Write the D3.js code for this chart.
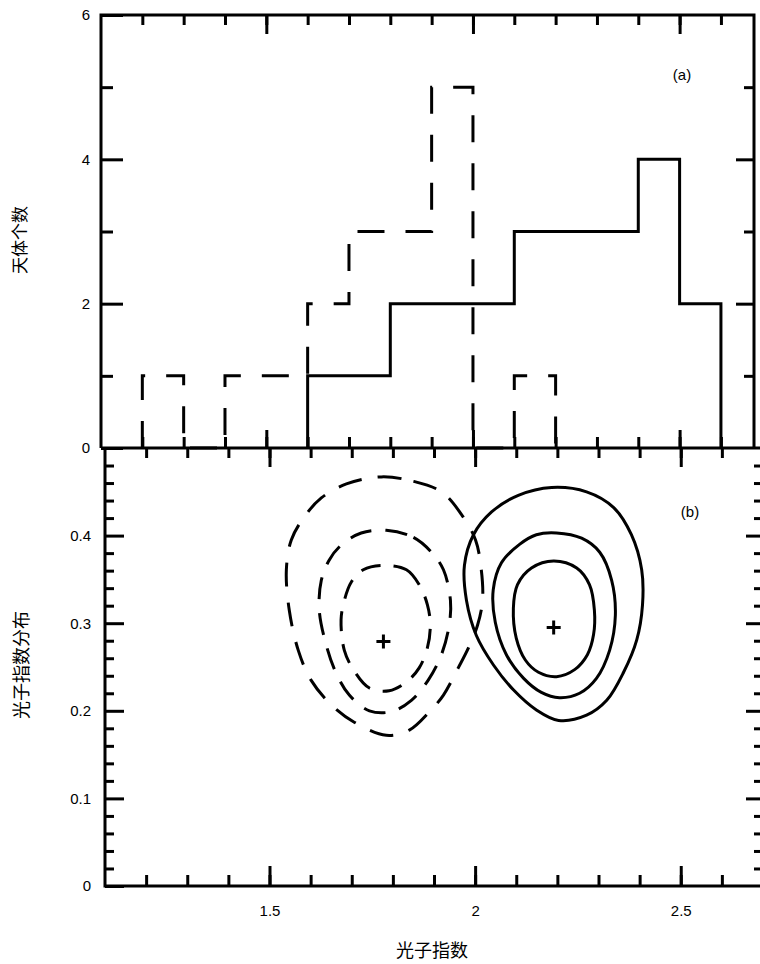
<!DOCTYPE html>
<html>
<head>
<meta charset="utf-8">
<script src="https://cdn.jsdelivr.net/npm/d3@7"></script>
<style>
  html, body { margin: 0; padding: 0; background: #fff; }
  svg { display: block; }
  .tick text { font-family: "Liberation Sans", Arial, sans-serif; font-size: 15px; fill: #000; }
  .tick line { stroke: #000; stroke-width: 3; }
</style>
</head>
<body>
<div id="chart"></div>
<script>
// histogram (a): bin edges and counts
const binEdges = [1.2, 1.3, 1.4, 1.5, 1.6, 1.7, 1.8, 1.9, 2.0, 2.1, 2.2, 2.3, 2.4, 2.5, 2.6];
const dashedCounts = [1, 0, 1, 1, 2, 3, 3, 5, 0, 1, 0, 0, 0, 0];
const solidCounts  = [0, 0, 0, 0, 1, 1, 2, 2, 2, 3, 3, 3, 4, 2];

// ticks
const xMinorTicks = [1.2, 1.3, 1.4, 1.5, 1.6, 1.7, 1.8, 1.9, 2.0, 2.1, 2.2, 2.3, 2.4, 2.5, 2.6];
const xMajorTicks = [1.5, 2.0, 2.5];
const xTickLabels = ["1.5", "2", "2.5"];
const countMajor = [0, 2, 4, 6];
const countMinor = [1, 3, 5];
const sigMajor = [0, 0.1, 0.2, 0.3, 0.4];
const sigMinor = [0.02, 0.04, 0.06, 0.08, 0.12, 0.14, 0.16, 0.18, 0.22, 0.24, 0.26, 0.28,
                  0.32, 0.34, 0.36, 0.38, 0.42, 0.44, 0.46, 0.48];

// contours (b): [光子指数, 分布] points
const dashedOuter = [[1.772,0.467],[1.850,0.462],[1.918,0.450],[1.967,0.424],[2.001,0.395],[2.015,0.361],
  [2.018,0.326],[2.006,0.298],[1.984,0.272],[1.959,0.249],[1.923,0.218],[1.889,0.199],[1.840,0.178],
  [1.784,0.172],[1.706,0.187],[1.650,0.207],[1.601,0.235],[1.570,0.269],[1.548,0.315],[1.541,0.361],
  [1.553,0.395],[1.584,0.421],[1.626,0.443],[1.687,0.459]];
const dashedMiddle = [[1.784,0.406],[1.850,0.398],[1.894,0.381],[1.923,0.361],[1.940,0.326],[1.937,0.298],
  [1.918,0.264],[1.886,0.235],[1.845,0.212],[1.796,0.199],[1.743,0.200],[1.694,0.218],[1.662,0.243],
  [1.638,0.275],[1.621,0.315],[1.626,0.349],[1.645,0.372],[1.674,0.389],[1.723,0.403]];
const dashedInner = [[1.772,0.366],[1.833,0.361],[1.864,0.344],[1.884,0.321],[1.891,0.298],[1.884,0.272],
  [1.864,0.249],[1.833,0.233],[1.791,0.223],[1.743,0.226],[1.704,0.247],[1.682,0.269],[1.674,0.304],
  [1.682,0.326],[1.699,0.347],[1.728,0.361]];
const solidOuter = [[2.186,0.455],[2.271,0.450],[2.337,0.432],[2.380,0.401],[2.405,0.361],[2.407,0.321],
  [2.393,0.281],[2.361,0.244],[2.320,0.212],[2.271,0.195],[2.203,0.189],[2.149,0.201],[2.093,0.224],
  [2.045,0.252],[2.003,0.286],[1.979,0.326],[1.974,0.366],[1.996,0.401],[2.040,0.427],[2.105,0.446]];
const solidMiddle = [[2.198,0.403],[2.259,0.397],[2.303,0.381],[2.332,0.349],[2.341,0.309],[2.327,0.269],
  [2.295,0.237],[2.254,0.220],[2.205,0.215],[2.161,0.221],[2.118,0.237],[2.076,0.264],[2.049,0.301],
  [2.044,0.338],[2.064,0.369],[2.108,0.390],[2.149,0.401]];
const solidInner = [[2.191,0.371],[2.247,0.363],[2.278,0.344],[2.290,0.315],[2.288,0.287],[2.273,0.264],
  [2.242,0.247],[2.198,0.239],[2.154,0.244],[2.122,0.258],[2.100,0.283],[2.093,0.317],[2.103,0.344],
  [2.137,0.363]];
const centres = [[1.777, 0.279], [2.191, 0.295]];

const width = 760, height = 964;
const svg = d3.select('#chart').append('svg')
  .attr('width', width).attr('height', height);

// panel boxes
const boxA = { left: 101, right: 754, top: 15, bottom: 448 };
const boxB = { left: 105, right: 763, top: 448, bottom: 886 };

const xA = d3.scaleLinear().domain([1.1, 2.68]).range([boxA.left, boxA.right]);
const yA = d3.scaleLinear().domain([0, 6]).range([boxA.bottom, boxA.top]);
const xB = d3.scaleLinear().domain([1.1, 2.7]).range([boxB.left, boxB.right]);
const yB = d3.scaleLinear().domain([0, 0.5]).range([boxB.bottom, boxB.top]);

function addAxis(axis, tx, ty, showText) {
  const g = svg.append('g').attr('transform', `translate(${tx},${ty})`).call(axis);
  g.select('.domain').remove();
  if (!showText) g.selectAll('text').remove();
  return g;
}

// ---- panel (a) ticks
addAxis(d3.axisLeft(yA).tickValues(countMajor).tickSize(-22).tickPadding(11).tickFormat(d3.format('d')), boxA.left, 0, true);
addAxis(d3.axisLeft(yA).tickValues(countMinor).tickSize(-12), boxA.left, 0, false);
addAxis(d3.axisRight(yA).tickValues([2, 4]).tickSize(-18), boxA.right, 0, false);
addAxis(d3.axisRight(yA).tickValues(countMinor).tickSize(-10), boxA.right, 0, false);
addAxis(d3.axisTop(xA).tickValues(xMinorTicks).tickSize(-10), 0, boxA.top, false);
addAxis(d3.axisTop(xA).tickValues(xMajorTicks).tickSize(-19), 0, boxA.top, false);
addAxis(d3.axisBottom(xA).tickValues(xMinorTicks).tickSize(-11), 0, boxA.bottom, false);
addAxis(d3.axisBottom(xA).tickValues(xMajorTicks).tickSize(-18), 0, boxA.bottom, false);

// ---- panel (b) ticks
addAxis(d3.axisLeft(yB).tickValues(sigMajor).tickSize(-19).tickPadding(14)
  .tickFormat(d => d === 0 ? '0' : d3.format('.1f')(d)), boxB.left, 0, true);
addAxis(d3.axisLeft(yB).tickValues(sigMinor).tickSize(-9), boxB.left, 0, false);
addAxis(d3.axisRight(yB).tickValues(sigMajor.slice(1)).tickSize(-17), boxB.right, 0, false);
addAxis(d3.axisRight(yB).tickValues(sigMinor).tickSize(-9), boxB.right, 0, false);
addAxis(d3.axisTop(xB).tickValues(xMinorTicks).tickSize(-10), 0, boxB.top, false);
addAxis(d3.axisTop(xB).tickValues(xMajorTicks).tickSize(-19), 0, boxB.top, false);
addAxis(d3.axisBottom(xB).tickValues(xMinorTicks).tickSize(-11), 0, boxB.bottom, false);
addAxis(d3.axisBottom(xB).tickValues(xMajorTicks).tickSize(-20).tickPadding(19)
  .tickFormat((d, i) => xTickLabels[i]), 0, boxB.bottom, true);

// frames
const frame = svg.append('g').attr('fill', 'none').attr('stroke', '#000').attr('stroke-width', 3);
frame.append('path').attr('d',
  `M${boxA.left},${boxA.bottom}V${boxA.top}H${boxA.right}V${boxA.bottom}`);
frame.append('path').attr('d', `M${boxA.left},${boxA.bottom}H${width}`);
frame.append('path').attr('d',
  `M${boxB.left},${boxB.top}V${boxB.bottom}H${boxB.right}`);

// ---- histograms
function stepPoints(counts) {
  const first = counts.findIndex(v => v > 0);
  let last = counts.length - 1;
  while (counts[last] === 0) last--;
  const pts = [[binEdges[first], 0]];
  for (let i = first; i <= last; i++) {
    pts.push([binEdges[i], counts[i]], [binEdges[i + 1], counts[i]]);
  }
  pts.push([binEdges[last + 1], 0]);
  return pts;
}
const histLine = d3.line().x(d => xA(d[0])).y(d => yA(d[1]));
svg.append('path').datum(stepPoints(dashedCounts))
  .attr('d', histLine).attr('fill', 'none').attr('stroke', '#000')
  .attr('stroke-width', 3).attr('stroke-dasharray', '27,21');
svg.append('path').datum(stepPoints(solidCounts))
  .attr('d', histLine).attr('fill', 'none').attr('stroke', '#000')
  .attr('stroke-width', 3);

// ---- contours
const contourLine = d3.line().x(d => xB(d[0])).y(d => yB(d[1]))
  .curve(d3.curveCatmullRomClosed.alpha(0.5));
const contours = [
  { pts: dashedOuter, dash: '24,16' },
  { pts: dashedMiddle, dash: '22,14' },
  { pts: dashedInner, dash: '20,13' },
  { pts: solidOuter, dash: null },
  { pts: solidMiddle, dash: null },
  { pts: solidInner, dash: null }
];
svg.append('g').selectAll('path').data(contours).enter().append('path')
  .attr('d', d => contourLine(d.pts))
  .attr('fill', 'none').attr('stroke', '#000').attr('stroke-width', 3)
  .attr('stroke-dasharray', d => d.dash);

svg.append('g').selectAll('path').data(centres).enter().append('path')
  .attr('transform', d => `translate(${xB(d[0])},${yB(d[1])})`)
  .attr('d', 'M-7,0H7M0,-7V7')
  .attr('stroke', '#000').attr('stroke-width', 3);

// ---- labels
svg.append('text').attr('x', 682).attr('y', 80).attr('text-anchor', 'middle')
  .attr('font-family', 'Liberation Sans, Arial, sans-serif').attr('font-size', 15).text('(a)');
svg.append('text').attr('x', 690).attr('y', 517).attr('text-anchor', 'middle')
  .attr('font-family', 'Liberation Sans, Arial, sans-serif').attr('font-size', 15).text('(b)');

const cjk = '"Noto Sans CJK SC", sans-serif';
svg.append('text').attr('transform', 'translate(26,240) rotate(-90)')
  .attr('text-anchor', 'middle').attr('font-family', cjk).attr('font-size', 17).text('天体个数');
svg.append('text').attr('transform', 'translate(28,665) rotate(-90)')
  .attr('text-anchor', 'middle').attr('font-family', cjk).attr('font-size', 18).text('光子指数分布');
svg.append('text').attr('x', 432).attr('y', 957)
  .attr('text-anchor', 'middle').attr('font-family', cjk).attr('font-size', 18).text('光子指数');
</script>
</body>
</html>
